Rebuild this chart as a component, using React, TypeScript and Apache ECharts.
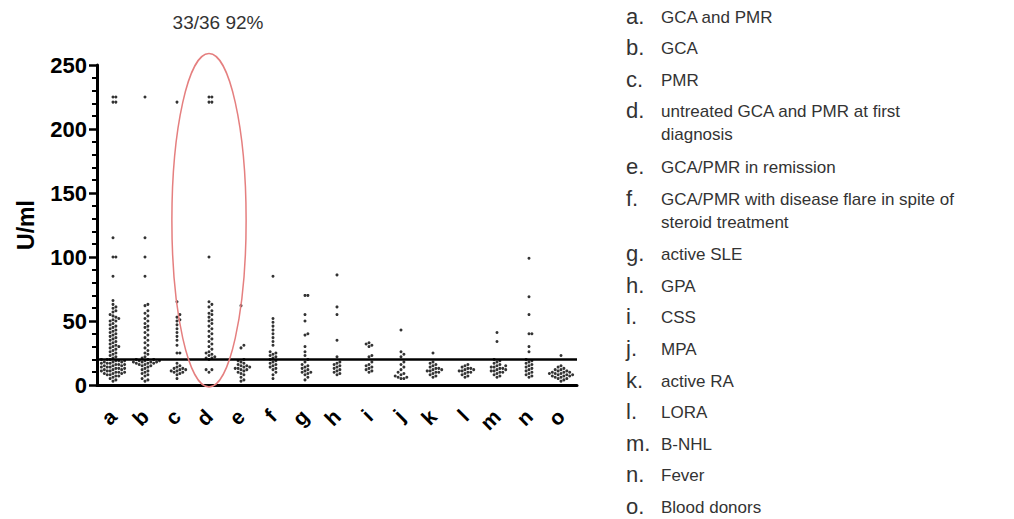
import React, { useEffect, useRef } from "react";
import * as echarts from "echarts";

const categories = ["a", "b", "c", "d", "e", "f", "g", "h", "i", "j", "k", "l", "m", "n", "o"];

const groupA = [225, 225, 221, 221, 115, 100, 100, 85,
  66, 63, 61, 60, 58, 57, 55, 54, 53, 52, 51, 50, 50, 48, 47, 46, 45, 44, 43, 42, 41, 40, 39, 38, 37, 36, 35, 34, 33, 32, 31, 30, 30, 29, 28, 27, 26, 25, 24, 23, 22, 21,
  20, 20, 20, 19, 19, 19, 18, 18, 18, 17, 17, 17, 16, 16, 16, 15, 15, 15, 14, 14, 14, 13, 13, 13, 12, 12, 12, 11, 11, 11, 10, 10, 10, 9, 9, 9, 8, 8, 7, 7, 6, 5, 4, 3];
const groupB = [225, 115, 100, 85,
  63, 62, 58, 56, 54, 52, 50, 48, 46, 45, 43, 41, 39, 37, 35, 33, 31, 29, 27, 25, 24, 22, 21,
  20, 20, 20, 19, 19, 19, 18, 18, 18, 18, 17, 17, 17, 16, 16, 15, 15, 14, 13, 12, 11, 10, 9, 8, 7, 5, 4, 3];
const groupC = [221, 65, 55, 53, 51, 50, 47, 44, 41, 38, 35, 31, 25, 25,
  17, 15, 14, 13, 13, 12, 12, 11, 11, 10, 10, 9, 8, 5];
const groupD = [225, 225, 221, 221, 100,
  65, 63, 61, 58, 56, 55, 53, 51, 50, 48, 46, 44, 42, 40, 38, 36, 34, 32, 30, 28, 26, 25, 24, 23, 22, 21, 21, 20,
  12, 12, 10];
const groupE = [62, 31, 29, 20, 19, 18, 17, 16, 15, 15, 14, 14, 13, 13, 12, 12, 11, 10, 9, 8, 6, 4, 3];
const groupF = [85, 52, 49, 46, 43, 40, 37, 34, 31, 26, 25, 24, 23, 22, 21,
  20, 19, 18, 17, 16, 15, 14, 13, 12, 10, 8, 5];
const groupG = [70, 70, 55, 50, 40, 39, 30, 26, 23, 20, 18, 16, 15, 14, 13, 12, 11, 10, 10, 9, 8, 6, 4];
const groupH = [86, 61, 55, 35, 22, 18, 17, 16, 15, 14, 13, 12, 11, 10, 9, 8];
const groupI = [33, 32, 31, 30, 23, 22, 18, 16, 15, 14, 13, 12, 11, 10];
const groupJ = [43, 26, 24, 22, 18, 16, 14, 12, 10, 9, 8, 7, 6, 6, 5, 5];
const groupK = [25, 18, 17, 16, 15, 14, 13, 13, 12, 12, 11, 11, 10, 10, 9, 8, 7, 6];
const groupL = [16, 15, 14, 13, 13, 12, 12, 11, 11, 10, 10, 9, 8, 7, 6];
const groupM = [41, 34, 20, 19, 18, 17, 16, 15, 15, 14, 14, 13, 13, 12, 12, 11, 11, 10, 10, 9, 8, 7, 6];
const groupN = [99, 69, 55, 40, 40, 30, 26, 20, 19, 18, 17, 16, 15, 14, 13, 12, 11, 10, 9, 8, 7, 6];
const groupO = [23, 15, 14, 13, 12, 12, 11, 11, 10, 10, 10, 9, 9, 9, 8, 8, 8, 7, 7, 7, 6, 6, 5, 5, 4, 3];

const groupValues = [groupA, groupB, groupC, groupD, groupE, groupF, groupG, groupH, groupI, groupJ, groupK, groupL, groupM, groupN, groupO];

const cutoff = 20;
const yMin = 0;
const yMax = 250;
const yInterval = 50;
const titleText = "33/36 92%";
const yAxisName = "U/ml";

const legendLetters = ["a.", "b.", "c.", "d.", "e.", "f.", "g.", "h.", "i.", "j.", "k.", "l.", "m.", "n.", "o."];
const legendLabels = [
  "GCA and PMR",
  "GCA",
  "PMR",
  "untreated GCA and PMR at first\ndiagnosis",
  "GCA/PMR in remission",
  "GCA/PMR with disease flare in spite of\nsteroid treatment",
  "active SLE",
  "GPA",
  "CSS",
  "MPA",
  "active RA",
  "LORA",
  "B-NHL",
  "Fever",
  "Blood donors",
];

const FONT = "'Liberation Sans', Arial, sans-serif";

// deterministic beeswarm layout (pixel offsets only)
function swarm(values: number[], cat: number) {
  const sorted = [...values].sort((a, b) => a - b);
  const placed: { v: number; dx: number }[] = [];
  const step = 2.9;
  const pxPerUnit = 1.28;
  const out: any[] = [];
  for (const v of sorted) {
    let dx = 0;
    for (let i = 0; i < 60; i++) {
      const cand = i === 0 ? 0 : (i % 2 === 1 ? 1 : -1) * Math.ceil(i / 2) * step;
      const clash = placed.some(
        (p) => Math.abs(p.dx - cand) < step - 0.1 && Math.abs(p.v - v) * pxPerUnit < 2.6
      );
      if (!clash) {
        dx = cand;
        break;
      }
    }
    placed.push({ v, dx });
    out.push({ value: [cat, v], symbolOffset: [dx, 0] });
  }
  return out;
}

export default function App() {
  const ref = useRef<HTMLDivElement>(null);
  useEffect(() => {
    document.body.style.margin = "0";
    const chart = echarts.init(ref.current!, undefined, { renderer: "svg" });
    const data: any[] = [];
    groupValues.forEach((vals, i) => data.push(...swarm(vals, i)));

    chart.setOption({
      animation: false,
      backgroundColor: "#ffffff",
      grid: { left: 97, right: 437, top: 65, bottom: 134 },
      xAxis: {
        type: "category",
        data: categories,
        boundaryGap: true,
        axisLine: { lineStyle: { color: "#000", width: 3 } },
        axisTick: { alignWithLabel: true, interval: 0, length: 8, lineStyle: { color: "#000", width: 2.5 } },
        axisLabel: {
          interval: 0,
          rotate: 45,
          margin: 28,
          color: "#000",
          fontSize: 21,
          fontWeight: "bold",
          fontFamily: FONT,
        },
        splitLine: { show: false },
      },
      yAxis: {
        type: "value",
        min: yMin,
        max: yMax,
        interval: yInterval,
        name: yAxisName,
        nameLocation: "middle",
        nameRotate: 90,
        nameGap: 60,
        nameTextStyle: { color: "#000", fontSize: 23, fontWeight: "bold", fontFamily: FONT },
        axisLine: { show: true, lineStyle: { color: "#000", width: 3 } },
        axisTick: { show: true, length: 8, lineStyle: { color: "#000", width: 2.5 } },
        minorTick: { show: true, splitNumber: 5, length: 5, lineStyle: { color: "#000", width: 2 } },
        axisLabel: { color: "#000", fontSize: 22, fontWeight: "bold", fontFamily: FONT, margin: 10 },
        splitLine: { show: false },
      },
      series: [
        {
          type: "scatter",
          data,
          symbol: "circle",
          symbolSize: 3,
          itemStyle: { color: "#000" },
          markLine: {
            silent: true,
            symbol: ["none", "none"],
            label: { show: false },
            lineStyle: { color: "#000", width: 2.5, type: "solid" },
            data: [{ yAxis: cutoff }],
          },
        },
      ],
    });

    const top = chart.convertToPixel({ seriesIndex: 0 }, [3, 259]) as number[];
    const bottom = chart.convertToPixel({ seriesIndex: 0 }, [3, -1.5]) as number[];
    const prev = chart.convertToPixel({ seriesIndex: 0 }, [2, 0]) as number[];
    const band = top[0] - prev[0];
    const rx = band * 1.16;

    const graphics: any[] = [
      {
        type: "ellipse",
        shape: { cx: top[0], cy: (top[1] + bottom[1]) / 2, rx, ry: (bottom[1] - top[1]) / 2 },
        style: { fill: "none", stroke: "#e57f7f", lineWidth: 1.5 },
        silent: true,
        z: 10,
      },
      {
        type: "text",
        x: 218,
        y: 22,
        style: {
          text: titleText,
          fill: "#333",
          font: `19px ${FONT}`,
          textAlign: "center",
          textVerticalAlign: "middle",
        },
      },
    ];

    let cy = 17;
    legendLetters.forEach((letter, i) => {
      const lines = legendLabels[i].split("\n").length;
      graphics.push({
        type: "text",
        x: 626,
        y: cy - 1,
        style: {
          text: letter,
          fill: "#333",
          font: `22px ${FONT}`,
          textAlign: "left",
          textVerticalAlign: "middle",
        },
      });
      graphics.push({
        type: "text",
        x: 661,
        y: cy - 11.5,
        style: {
          text: legendLabels[i],
          fill: "#333",
          font: `17px ${FONT}`,
          lineHeight: 23,
          textAlign: "left",
          textVerticalAlign: "top",
        },
      });
      cy += 31.6 + (lines - 1) * 24;
    });

    chart.setOption({ graphic: graphics });

    return () => chart.dispose();
  }, []);
  return <div ref={ref} style={{ width: 1014, height: 519 }} />;
}
